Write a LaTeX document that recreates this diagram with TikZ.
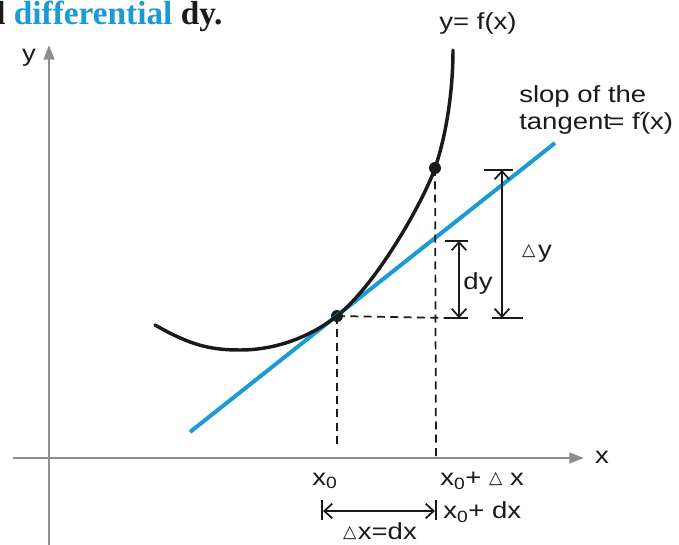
\documentclass[tikz,border=0pt]{standalone}
\usepackage{fontspec}
\usetikzlibrary{arrows.meta}
\setmainfont{Liberation Serif}
\newfontfamily\lblfont[FakeStretch=1.18]{Liberation Sans}
\newfontfamily\symfont{DejaVu Sans}
\definecolor{dfInk}{HTML}{1A1A1A}
\definecolor{dfBlue}{HTML}{1A9AD6}
\definecolor{dfGray}{HTML}{8E8E8E}
\tikzset{
 axis/.style={draw=dfGray,line width=2pt,-{Triangle[length=11pt,width=8pt]}},
 curve/.style={draw=dfInk,line width=2.6pt,line cap=round},
 tangent/.style={draw=dfBlue,line width=3pt},
 guide/.style={draw=dfInk,line width=1.3pt,dash pattern=on 6pt off 4pt},
 tick/.style={draw=dfInk,line width=1.3pt},
 span/.style={draw=dfInk,line width=1.3pt,
   {Straight Barb[length=6pt,width=11pt]}-{Straight Barb[length=6pt,width=11pt]}},
 dot/.style={circle,fill=dfInk,inner sep=0pt,minimum size=9pt},
 lbl/.style={font=\lblfont\fontsize{17.5}{20}\selectfont,text=dfInk,inner sep=0pt}
}
\newcommand{\tri}{{\symfont\fontsize{13}{13}\selectfont\raisebox{1.5pt}{△}}}
\begin{document}
\begin{tikzpicture}[x=0.75pt,y=-0.75pt]
 \useasboundingbox (0,0) rectangle (679,544);
 % heading, cut at the left edge
 \node[anchor=base west,inner sep=0pt,font=\bfseries\fontsize{25}{29}\selectfont,text=dfInk]
   (head) at (-4,24) {l \textcolor{dfBlue}{differential} dy.};
 % axes
 \coordinate (xs) at (13,458); \coordinate (xe) at (584,458);
 \coordinate (ys) at (49,560); \coordinate (ye) at (49,45);
 \draw[axis] (xs)--(xe);
 \draw[axis] (ys)--(ye);
 \node[lbl] (ylab) at (29,58) {y};
 \node[lbl] (xlab) at (602,457) {x};
 % curve and tangent
 \coordinate (c0) at (155,325); \coordinate (cmin) at (240,350);
 \coordinate (ctop) at (453,50);
 \node[dot] (P) at (337,316) {};
 \node[dot] (Q) at (435,168) {};
 \coordinate (t0) at (190,432); \coordinate (t1) at (555,143);
 \draw[tangent] (t0)--(t1);
 \draw[curve] (c0) .. controls (190,345) and (210,350) .. (cmin)
   .. controls (276,350) and (310,337) .. (P.center)
   .. controls (377,284) and (424,200) .. (Q.center)
   .. controls (446,136) and (453,92) .. (ctop);
 \node[lbl] (fx) at (478,23) {y= f(x)};
 \node[lbl,anchor=west,align=left] (slope) at (519,110) {slop of the\\tangent\kern-2pt= f\kern-1pt´\kern-5pt(x)};
 % guides
 \coordinate (Px) at (337,448); \coordinate (Qx) at (436,458);
 \coordinate (Qy) at (445,318);
 \draw[guide] (P.center)--(Px);
 \draw[guide] (Q.center)--(Qx);
 \draw[guide] (P.center)--(Qy);
 % dy
 \coordinate (dyA) at (445,241); \coordinate (dyB) at (468,241);
 \coordinate (dyC) at (445,318); \coordinate (dyD) at (468,318);
 \coordinate (dyT) at (459,241); \coordinate (dyL) at (459,318);
 \draw[tick] (dyA)--(dyB); \draw[tick] (dyC)--(dyD);
 \draw[span] (dyT)--(dyL);
 \node[lbl] (dylab) at (478,283) {dy};
 % delta y
 \coordinate (DyA) at (484,170); \coordinate (DyB) at (513,170);
 \coordinate (DyC) at (492,318); \coordinate (DyD) at (523,318);
 \coordinate (DyT) at (502,170); \coordinate (DyL) at (502,318);
 \draw[tick] (DyA)--(DyB); \draw[tick] (DyC)--(DyD);
 \draw[span] (DyT)--(DyL);
 \node[lbl] (Dylab) at (537,253) {\tri\kern2pt y};
 % x labels
 \node[lbl] (x0) at (325,481) {x\textsubscript{0}};
 \node[lbl,anchor=west] (x0Dx) at (440,481) {x\textsubscript{0}+ \tri\ x};
 \node[lbl,anchor=west] (x0dx) at (443,512) {x\textsubscript{0}+ dx};
 \coordinate (bA) at (322,500); \coordinate (bB) at (322,520);
 \coordinate (bC) at (436,500); \coordinate (bD) at (436,520);
 \coordinate (bL) at (323,511); \coordinate (bR) at (435,511);
 \draw[tick] (bA)--(bB); \draw[tick] (bC)--(bD);
 \draw[span] (bL)--(bR);
 \node[lbl] (dxlab) at (380,531) {\tri\kern1pt x=dx};
\end{tikzpicture}
\end{document}
